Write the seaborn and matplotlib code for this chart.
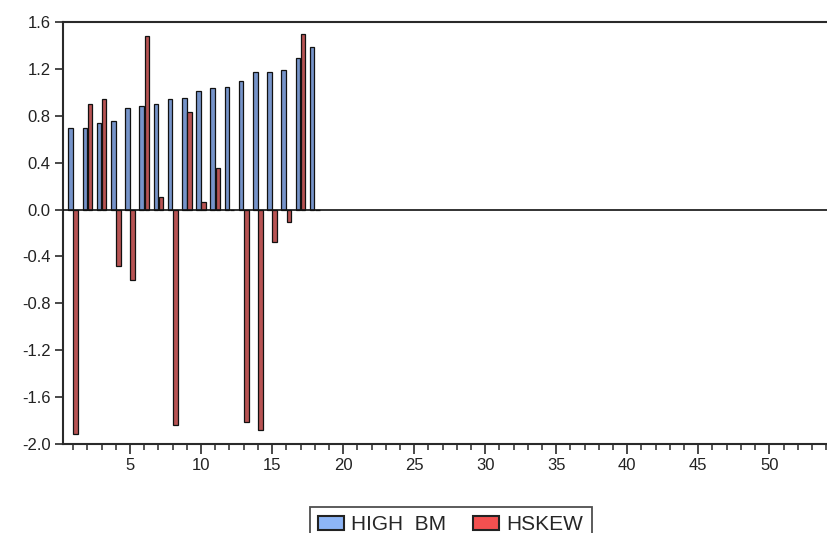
import numpy as np
import pandas as pd
import matplotlib
matplotlib.use("Agg")
import matplotlib.pyplot as plt
import seaborn as sns
from matplotlib.ticker import MultipleLocator, FormatStrFormatter

groups = list(range(1, 19))
high_bm = [0.70, 0.70, 0.74, 0.755, 0.87, 0.885, 0.90, 0.945, 0.955, 1.015,
           1.035, 1.047, 1.098, 1.174, 1.174, 1.194, 1.294, 1.387]
hskew = [-1.915, 0.90, 0.94, -0.484, -0.60, 1.48, 0.105, -1.84, 0.83, 0.062,
         0.357, -0.005, -1.815, -1.883, -0.279, -0.105, 1.50, 0.0]
series_names = ["HIGH  BM", "HSKEW"]
y_ticks = [-2.0, -1.6, -1.2, -0.8, -0.4, 0.0, 0.4, 0.8, 1.2, 1.6]
x_major = [5, 10, 15, 20, 25, 30, 35, 40, 45, 50]

df = pd.DataFrame({
    "x": groups * 2,
    "value": high_bm + hskew,
    "series": [series_names[0]] * len(groups) + [series_names[1]] * len(groups),
})

sns.set_style("ticks")
plt.rcParams["font.family"] = ["Liberation Sans", "DejaVu Sans"]

fig = plt.figure(figsize=(8.27, 5.33), dpi=100)
ax = fig.add_axes([63 / 827, 89 / 533, 1 - 63 / 827, 422 / 533])

sns.barplot(data=df, x="x", y="value", hue="series", native_scale=True,
            palette=["#6890d8", "#c84242"], width=0.72, gap=0.1,
            edgecolor="#111111", linewidth=0.9, ax=ax, legend=True)

ax.axhline(0, color="#111111", lw=1.2, zorder=3)
ax.set_xlim(0.28, 54.06)
ax.set_ylim(-2.0, 1.6)
ax.set_yticks(y_ticks)
ax.yaxis.set_major_formatter(FormatStrFormatter("%.1f"))
ax.set_xticks(x_major)
ax.xaxis.set_minor_locator(MultipleLocator(1))
ax.set_xlabel("")
ax.set_ylabel("")

for s in ["left", "bottom", "top"]:
    ax.spines[s].set_color("#2a2a2a")
    ax.spines[s].set_linewidth(1.5)
ax.spines["right"].set_visible(False)

ax.tick_params(axis="y", direction="out", length=6, width=1.2, color="#2a2a2a",
               labelsize=12, labelcolor="#222222", pad=3)
ax.tick_params(axis="x", which="major", direction="out", length=7, width=1.2,
               color="#2a2a2a", labelsize=12, labelcolor="#222222", pad=3)
ax.tick_params(axis="x", which="minor", direction="out", length=4, width=1.1,
               color="#2a2a2a")

handles, labels = ax.get_legend_handles_labels()
ax.get_legend().remove()
fig.legend(handles, labels, loc="upper center", bbox_to_anchor=(0.545, 0.049),
           ncol=2, frameon=True, fancybox=False, edgecolor="#222222",
           fontsize=15, handlelength=1.25, handleheight=0.7,
           columnspacing=1.3, handletextpad=0.35, borderpad=0.4,
           borderaxespad=0.0)
leg = fig.legends[0]
leg.get_frame().set_linewidth(1.3)
for h, c in zip(leg.legend_handles, ["#8db5f6", "#f25050"]):
    h.set_facecolor(c)
    h.set_edgecolor("#222222")
    h.set_linewidth(1.5)

fig.savefig("out.png", dpi=100)
